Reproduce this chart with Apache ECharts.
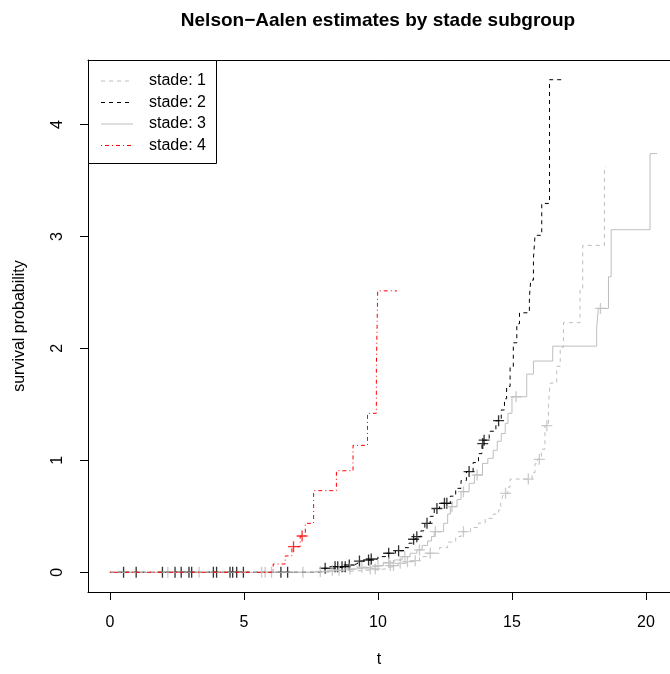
<!DOCTYPE html>
<html><head><meta charset="utf-8">
<script src="https://cdn.jsdelivr.net/npm/echarts@6/dist/echarts.min.js"></script>
<style>html,body{margin:0;padding:0;background:#fff;overflow:hidden}#c{width:670px;height:674px}</style>
</head><body><div id="c"></div>
<script>
// ---- data ----
const groups = ['stade: 1', 'stade: 2', 'stade: 3', 'stade: 4'];
const xTicks = [0, 5, 10, 15, 20];
const yTicks = [0, 1, 2, 3, 4];

// Nelson-Aalen step points [time, cumulative hazard]
const stade1Steps = [[0,0],[7.9,0.008],[8.9,0.018],[9.6,0.03],[10.3,0.045],[10.45,0.06],[10.75,0.08],[11.0,0.095],[11.25,0.104],[11.55,0.14],[11.85,0.17],[12.3,0.22],[12.6,0.27],[12.9,0.32],[13.1,0.363],[13.45,0.40],[13.75,0.44],[14.0,0.482],[14.3,0.52],[14.5,0.556],[14.58,0.62],[14.65,0.68],[14.7,0.705],[14.85,0.76],[14.93,0.833],[15.75,0.89],[15.86,0.97],[15.95,1.009],[16.1,1.1],[16.23,1.31],[16.36,1.5],[16.42,1.69],[16.67,1.84],[16.8,2.01],[16.92,2.23],[17.54,2.52],[17.64,2.92],[18.45,3.62],[18.5,3.62]];
const stade1Censor = [[2.16,0],[3.33,0],[5.66,0],[5.79,0],[6.03,0],[7.2,0],[9.71,0.03],[9.9,0.03],[10.46,0.06],[10.58,0.06],[10.83,0.08],[11.1,0.095],[11.39,0.104],[11.95,0.17],[13.19,0.363],[14.76,0.705],[15.61,0.833],[16.02,1.009],[16.3,1.31]];

const stade2Steps = [[0,0],[7.8,0.015],[8.0,0.036],[8.35,0.05],[8.85,0.065],[9.1,0.08],[9.25,0.10],[9.55,0.11],[9.7,0.119],[10.0,0.14],[10.3,0.17],[10.65,0.193],[10.95,0.22],[11.15,0.26],[11.3,0.295],[11.4,0.318],[11.6,0.37],[11.75,0.4375],[11.95,0.50],[12.1,0.57],[12.3,0.616],[12.7,0.68],[12.9,0.75],[13.1,0.82],[13.3,0.90],[13.55,0.98],[13.75,1.06],[13.88,1.15],[13.95,1.18],[14.15,1.26],[14.4,1.354],[14.6,1.45],[14.72,1.55],[14.8,1.66],[14.93,1.83],[15.05,2.05],[15.18,2.22],[15.28,2.318],[15.65,2.46],[15.7,2.61],[15.8,2.8],[15.86,3.01],[16.11,3.295],[16.4,4.40],[16.86,4.40]];
const stade2Censor = [[0.51,0],[0.98,0],[1.96,0],[2.43,0],[2.66,0],[2.95,0],[3.05,0],[3.86,0],[3.98,0],[4.48,0],[4.58,0],[4.73,0],[4.98,0],[6.38,0],[6.63,0],[8.03,0.036],[8.4,0.05],[8.5,0.05],[8.66,0.05],[8.78,0.05],[8.93,0.065],[9.31,0.10],[9.65,0.11],[9.75,0.119],[10.4,0.17],[10.77,0.193],[11.33,0.295],[11.45,0.318],[11.83,0.4375],[12.2,0.57],[12.48,0.616],[12.57,0.616],[13.4,0.90],[13.91,1.15],[13.96,1.18],[14.5,1.354]];

const stade3Steps = [[0,0],[7.7,0.008],[8.2,0.018],[8.7,0.03],[9.2,0.045],[9.7,0.06],[10.2,0.085],[10.6,0.11],[10.9,0.14],[11.2,0.17],[11.45,0.2],[11.65,0.24],[11.85,0.28],[12.0,0.32],[12.1,0.363],[12.45,0.4375],[12.6,0.52],[12.7,0.586],[12.95,0.65],[13.1,0.72],[13.4,0.795],[13.6,0.869],[13.9,0.973],[14.1,1.018],[14.3,1.09],[14.45,1.17],[14.6,1.24],[14.75,1.33],[14.85,1.42],[15.0,1.568],[15.55,1.77],[15.8,1.887],[16.52,2.02],[18.16,2.18],[18.22,2.357],[18.6,2.64],[18.7,3.06],[20.15,3.74],[20.42,3.74]];
const stade3Censor = [[7.85,0.008],[8.3,0.018],[8.55,0.018],[8.96,0.03],[9.4,0.045],[10.0,0.06],[10.4,0.085],[11.0,0.14],[11.55,0.2],[12.14,0.363],[12.76,0.586],[13.19,0.72],[13.7,0.869],[15.15,1.568],[18.3,2.357]];

const stade4Steps = [[0,0],[6.09,0.074],[6.54,0.146],[6.79,0.229],[7.1,0.324],[7.29,0.4375],[7.6,0.729],[8.45,0.907],[9.07,1.134],[9.61,1.42],[9.94,1.82],[9.99,2.514],[10.71,2.514]];
const stade4Censor = [[6.85,0.229],[7.17,0.324]];

// ---- styles ----
const FONT = '"Liberation Sans", Arial, Helvetica, sans-serif';
const colors = ['#BEBEBE', '#000000', '#BEBEBE', '#FF0000'];
const dashes = [[4, 4], [4, 4], 'solid', [1, 3, 4, 3]];
const stepsAll = [stade1Steps, stade2Steps, stade3Steps, stade4Steps];
const censorAll = [stade1Censor, stade2Censor, stade3Censor, stade4Censor];
const PLUS = 'path://M0,4.4H10V5.6H0Z M4.4,0H5.6V10H4.4Z';

const series = [];
groups.forEach((g, i) => {
  series.push({
    name: g, type: 'line', step: 'end', data: stepsAll[i], symbol: 'none',
    lineStyle: { color: colors[i], width: 1, type: dashes[i] }, silent: true, z: 2 + i
  });
  series.push({
    name: g + ' censored', type: 'scatter', data: censorAll[i], symbol: PLUS, symbolSize: 11,
    itemStyle: { color: colors[i] }, silent: true, z: 2 + i
  });
});

// legend drawn as graphic
const legendRows = [81, 102.5, 124, 145.5];
const graphic = [{ type: 'rect', shape: { x: 88.5, y: 60.5, width: 128, height: 103 },
  style: { fill: '#fff', stroke: '#000', lineWidth: 1 }, z: 10 }];
groups.forEach((g, i) => {
  graphic.push({ type: 'line', shape: { x1: 101, y1: legendRows[i], x2: 133, y2: legendRows[i] },
    style: { stroke: colors[i], lineWidth: 1, lineDash: dashes[i] === 'solid' ? null : dashes[i] }, z: 11 });
  graphic.push({ type: 'text', x: 149, y: legendRows[i],
    style: { text: g, fill: '#000', font: '16px ' + FONT, verticalAlign: 'middle', align: 'left' }, z: 11 });
});

const X_MIN = -0.817, X_MAX = 20.895, Y_MIN = -0.176, Y_MAX = 4.576;
const blackLine = { show: true, onZero: false, lineStyle: { color: '#000', width: 1 } };

const chart = echarts.init(document.getElementById('c'), null, { renderer: 'canvas' });
chart.setOption({
  animation: false,
  backgroundColor: '#fff',
  title: {
    text: 'Nelson\u2212Aalen estimates by stade subgroup',
    left: 378, top: 11, padding: 0, textAlign: 'center',
    textStyle: { fontFamily: FONT, fontWeight: 'bold', fontSize: 19, color: '#000' }
  },
  grid: { left: 88, top: 60, right: 0, bottom: 82, show: false },
  xAxis: [{
    type: 'value', min: X_MIN, max: X_MAX, position: 'bottom',
    name: 't', nameLocation: 'middle', nameGap: 60,
    nameTextStyle: { fontFamily: FONT, fontSize: 16, color: '#000' },
    axisLine: blackLine,
    axisTick: { show: true, inside: false, length: 8, customValues: xTicks, lineStyle: { color: '#000' } },
    axisLabel: { customValues: xTicks, fontFamily: FONT, fontSize: 16, color: '#000', margin: 23 },
    splitLine: { show: false }
  }, {
    type: 'value', min: X_MIN, max: X_MAX, position: 'top',
    axisLine: blackLine, axisTick: { show: false }, axisLabel: { show: false }, splitLine: { show: false }
  }],
  yAxis: {
    type: 'value', min: Y_MIN, max: Y_MAX,
    name: 'survival probability', nameLocation: 'middle', nameGap: 60, nameRotate: 90,
    nameTextStyle: { fontFamily: FONT, fontSize: 16, color: '#000' },
    axisLine: blackLine,
    axisTick: { show: true, inside: false, length: 8, customValues: yTicks, lineStyle: { color: '#000' } },
    axisLabel: { customValues: yTicks, rotate: 90, fontFamily: FONT, fontSize: 16, color: '#000', margin: 22 },
    splitLine: { show: false }
  },
  graphic: graphic,
  series: series
});
</script></body></html>
